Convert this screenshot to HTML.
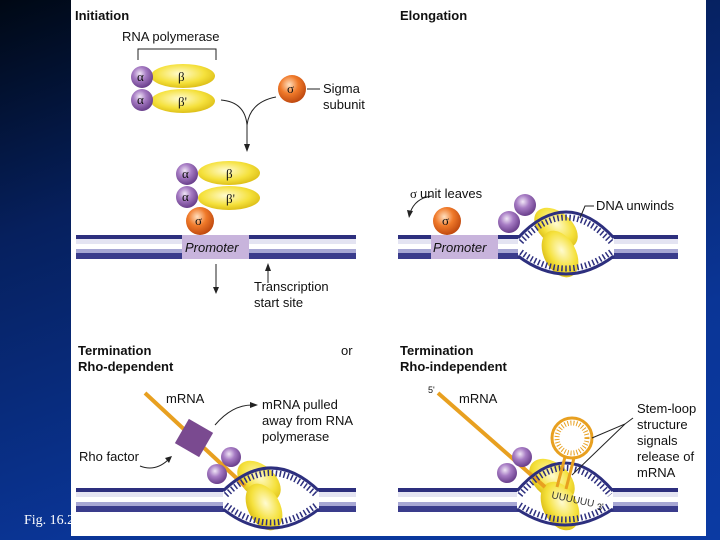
<!DOCTYPE html>
<html><head><meta charset="utf-8"><style>
html,body{margin:0;padding:0;width:720px;height:540px;overflow:hidden}
body{background:linear-gradient(160deg,#000814 0%,#06205e 30%,#0a3596 70%,#0b3aa3 100%)}
svg{position:absolute;left:0;top:0}
text{font-family:"Liberation Sans",sans-serif;font-size:13px;fill:#111}
.b{font-weight:bold}
.g{font-family:"Liberation Serif",serif;font-size:13px}
</style></head><body>
<svg width="720" height="540" viewBox="0 0 720 540">
<defs>
<radialGradient id="pu" cx="40%" cy="35%" r="65%"><stop offset="0" stop-color="#f0e6f6"/><stop offset="0.45" stop-color="#a77cc4"/><stop offset="1" stop-color="#6a3f8c"/></radialGradient>
<radialGradient id="ye" cx="45%" cy="40%" r="65%"><stop offset="0" stop-color="#fffbd0"/><stop offset="0.6" stop-color="#f5e13c"/><stop offset="1" stop-color="#d8b810"/></radialGradient>
<radialGradient id="or" cx="40%" cy="35%" r="65%"><stop offset="0" stop-color="#ffe0c0"/><stop offset="0.5" stop-color="#f07a2a"/><stop offset="1" stop-color="#c04a10"/></radialGradient>
<g id="dna">
<rect x="0" y="0" width="280" height="24" fill="#fff"/>
<rect x="0" y="0" width="280" height="4" fill="#2d2f7e"/>
<rect x="0" y="4" width="280" height="5" fill="#e4e4f2"/>
<rect x="0" y="14" width="280" height="4" fill="#a7a7d4"/>
<rect x="0" y="18" width="280" height="6" fill="#3a3c8c"/>
</g>
</defs>
<rect x="71" y="0" width="635" height="536" fill="#fff"/>
<text x="24" y="524" style="font-family:'Liberation Serif',serif;font-size:14px;fill:#fff">Fig. 16.2</text>

<!-- Initiation -->
<text x="75" y="20" class="b">Initiation</text>
<text x="122" y="41">RNA polymerase</text>
<path d="M138 60V49H216V60" fill="none" stroke="#222" stroke-width="1"/>
<ellipse cx="183" cy="76" rx="32" ry="12" fill="url(#ye)"/>
<ellipse cx="183" cy="101" rx="32" ry="12" fill="url(#ye)"/>
<circle cx="142" cy="77" r="11" fill="url(#pu)"/><circle cx="142" cy="100" r="11" fill="url(#pu)"/>
<text x="137" y="81" class="g">α</text><text x="137" y="104" class="g">α</text>
<text x="178" y="81" class="g">β</text><text x="178" y="106" class="g">β'</text>
<circle cx="292" cy="89" r="14" fill="url(#or)"/><text x="287" y="93" class="g">σ</text>
<path d="M307 89H320" stroke="#222"/>
<text x="323" y="93">Sigma</text><text x="323" y="109">subunit</text>
<path d="M221 100Q245 102 247 125Q250 102 276 97" fill="none" stroke="#222"/>
<path d="M247 125V148" stroke="#222"/><path d="M244 144L247 152L250 144Z" fill="#222"/>
<ellipse cx="229" cy="173" rx="31" ry="12" fill="url(#ye)"/>
<ellipse cx="229" cy="198" rx="31" ry="12" fill="url(#ye)"/>
<circle cx="187" cy="174" r="11" fill="url(#pu)"/><circle cx="187" cy="197" r="11" fill="url(#pu)"/>
<text x="182" y="178" class="g">α</text><text x="182" y="201" class="g">α</text>
<text x="226" y="178" class="g">β</text><text x="226" y="203" class="g">β'</text>
<circle cx="200" cy="221" r="14" fill="url(#or)"/><text x="195" y="225" class="g">σ</text>
<use href="#dna" x="76" y="235"/>
<rect x="182" y="235" width="67" height="24" fill="#c8b4dc"/>
<text x="185" y="252" style="font-style:italic">Promoter</text>
<path d="M216 264V290" stroke="#222"/><path d="M213 287L216 294L219 287Z" fill="#222"/>
<path d="M268 269V283" stroke="#222"/><path d="M265 271L268 263L271 271Z" fill="#222"/>
<text x="254" y="291">Transcription</text><text x="254" y="307">start site</text>

<!-- Elongation -->
<text x="400" y="20" class="b">Elongation</text>
<use href="#dna" x="398" y="235"/>
<rect x="431" y="235" width="67" height="24" fill="#c8b4dc"/>
<text x="433" y="252" style="font-style:italic">Promoter</text>
<circle cx="447" cy="221" r="14" fill="url(#or)"/><text x="442" y="225" class="g">σ</text>
<path d="M432 196Q415 198 410 213" fill="none" stroke="#222"/><path d="M407 210L409 218L413 211Z" fill="#222"/>
<text x="410" y="198" class="g">σ</text><text x="420" y="198">unit leaves</text>
<path d="M518 238Q566 186 614 238L614 256Q566 292 518 256Z" fill="#fff"/>
<ellipse cx="556" cy="228" rx="25" ry="16" fill="url(#ye)" transform="rotate(40 556 228)"/>
<ellipse cx="560" cy="254" rx="25" ry="16" fill="url(#ye)" transform="rotate(62 560 254)"/>
<path d="M518 238Q566 186 614 238" fill="none" stroke="#2d2f7e" stroke-width="3"/>
<path d="M521 242Q566 193 611 242" fill="none" stroke="#2d2f7e" stroke-width="6" stroke-dasharray="1.5 2.5"/>
<path d="M518 256Q566 292 614 256" fill="none" stroke="#2d2f7e" stroke-width="3"/>
<path d="M521 252Q566 285 611 252" fill="none" stroke="#2d2f7e" stroke-width="6" stroke-dasharray="1.5 2.5"/>
<circle cx="525" cy="205" r="11" fill="url(#pu)"/><circle cx="509" cy="222" r="11" fill="url(#pu)"/>
<path d="M580 218L585 206H594" fill="none" stroke="#222"/>
<text x="596" y="210">DNA unwinds</text>

<!-- Rho-dependent -->
<text x="78" y="355" class="b">Termination</text><text x="78" y="371" class="b">Rho-dependent</text>
<text x="341" y="355">or</text>
<use href="#dna" x="76" y="488"/>
<path d="M223 491Q271 445 319 491L319 509Q271 547 223 509Z" fill="#fff"/>
<ellipse cx="259" cy="481" rx="25" ry="16" fill="url(#ye)" transform="rotate(40 259 481)"/>
<ellipse cx="264" cy="507" rx="25" ry="16" fill="url(#ye)" transform="rotate(62 264 507)"/>
<path d="M145 393L245 486" stroke="#e8a020" stroke-width="4"/>
<path d="M223 491Q271 445 319 491" fill="none" stroke="#2d2f7e" stroke-width="3"/>
<path d="M226 495Q271 451 316 495" fill="none" stroke="#2d2f7e" stroke-width="6" stroke-dasharray="1.5 2.5"/>
<path d="M223 509Q271 547 319 509" fill="none" stroke="#2d2f7e" stroke-width="3"/>
<path d="M226 505Q271 540 316 505" fill="none" stroke="#2d2f7e" stroke-width="6" stroke-dasharray="1.5 2.5"/>
<text x="166" y="403">mRNA</text>
<rect x="180" y="424" width="28" height="28" fill="#7a4a90" transform="rotate(30 194 438)"/>
<circle cx="231" cy="457" r="10" fill="url(#pu)"/><circle cx="217" cy="474" r="10" fill="url(#pu)"/>
<text x="79" y="461">Rho factor</text>
<path d="M140 466Q155 472 168 460" fill="none" stroke="#222"/><path d="M165 458L172 456L169 463Z" fill="#222"/>
<path d="M215 425Q232 405 252 405" fill="none" stroke="#222"/><path d="M250 402L258 405L250 408Z" fill="#222"/>
<text x="262" y="409">mRNA pulled</text><text x="262" y="425">away from RNA</text><text x="262" y="441">polymerase</text>

<!-- Rho-independent -->
<text x="400" y="355" class="b">Termination</text><text x="400" y="371" class="b">Rho-independent</text>
<text x="428" y="393" style="font-size:9px">5'</text>
<text x="459" y="403">mRNA</text>
<use href="#dna" x="398" y="488"/>
<path d="M517 491Q565 435 613 491L613 509Q565 541 517 509Z" fill="#fff"/>
<ellipse cx="552" cy="480" rx="26" ry="17" fill="url(#ye)" transform="rotate(40 552 480)"/>
<ellipse cx="560" cy="506" rx="26" ry="17" fill="url(#ye)" transform="rotate(62 560 506)"/>
<path d="M438 393L545 487" stroke="#e8a020" stroke-width="4"/>
<path d="M517 491Q565 435 613 491" fill="none" stroke="#2d2f7e" stroke-width="3"/>
<path d="M520 495Q565 441 610 495" fill="none" stroke="#2d2f7e" stroke-width="6" stroke-dasharray="1.5 2.5"/>
<path d="M517 509Q565 541 613 509" fill="none" stroke="#2d2f7e" stroke-width="3"/>
<path d="M520 505Q565 534 610 505" fill="none" stroke="#2d2f7e" stroke-width="6" stroke-dasharray="1.5 2.5"/>
<circle cx="522" cy="457" r="10" fill="url(#pu)"/><circle cx="507" cy="473" r="10" fill="url(#pu)"/>
<circle cx="572" cy="438" r="20" fill="none" stroke="#e8a020" stroke-width="3"/>
<circle cx="572" cy="438" r="15" fill="none" stroke="#e8a020" stroke-width="5" stroke-dasharray="1 2"/>
<path d="M565 457L557 487M574 458L566 489" stroke="#e8a020" stroke-width="3"/>
<text x="551" y="498" style="font-size:10px;fill:#333" transform="rotate(12 551 498)">UUUUUU</text>
<text x="597" y="510" style="font-size:9px">3'</text>
<path d="M633 418L625 424L592 438M625 424L572 475" fill="none" stroke="#222"/>
<text x="637" y="413">Stem-loop</text><text x="637" y="429">structure</text><text x="637" y="445">signals</text><text x="637" y="461">release of</text><text x="637" y="477">mRNA</text>
</svg>
</body></html>
